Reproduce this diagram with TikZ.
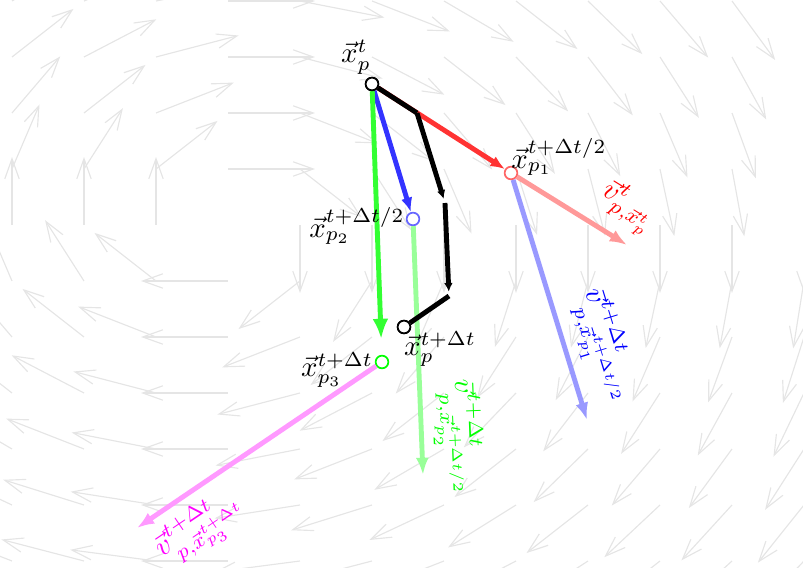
\documentclass[tikz,border=0pt]{standalone}
\usepackage{amsmath}
\usetikzlibrary{arrows.meta, positioning, calc}
\definecolor{mag}{RGB}{255,0,255}
\tikzstyle{field} = [draw=black!10, line width=0.4pt, -{Straight Barb[length=7pt,width=5pt]}]

\begin{document}
\begin{tikzpicture}[
    x=0.0122cm, y=-0.0122cm,
    pt/.style={circle, draw, fill=white, inner sep=0pt, minimum size=4.4pt, line width=0.6pt},
    stepvec/.style={line width=1.7pt, -{Latex[length=5pt,width=4pt]}},
    velvec/.style={line width=1.7pt, -{Latex[length=6pt,width=4.5pt]}},
    rk/.style={line width=1.7pt, draw=black},
    rkstep/.style={rk, -{Latex[length=3pt,width=3pt]}, shorten >=1.5pt}
  ]
    \useasboundingbox (0,0) rectangle (803,568);

    % background field
    \begin{scope}
      \clip (0,0) rectangle (803,568);
      \foreach \i in {-3,...,8}{
        \foreach \j in {-4,...,6}{
          \pgfmathsetmacro\rr{sqrt((\i)*(\i)+(\j)*(\j))}
          \ifdim\rr pt>0.1pt
            \pgfmathsetmacro\du{-87*(\j)/\rr}
            \pgfmathsetmacro\dv{68*(\i)/\rr}
            \draw[field] (228+72*\i,225+56*\j) -- ++(\du,\dv);
          \fi
        }
      }
    \end{scope}

    % particle positions
    \node[pt] (xp) at (372,84) {};
    \node[pt, draw=red!60] (xp1) at (511,173) {};
    \node[pt, draw=blue!60] (xp2) at (413,219) {};
    \node[pt, draw=green] (xp3) at (382,362) {};
    \node[pt] (xpn) at (404,327) {};

    \coordinate (vr) at (627,245);
    \coordinate (vb) at (587,420);
    \coordinate (vg) at (423,475);
    \coordinate (vm) at (137,528);

    \coordinate (k1) at (417,113);
    \coordinate (k2) at (445,203);
    \coordinate (k3) at (449,296);

    % velocities
    \draw[velvec, red!40] (xp1) -- (vr)
      node[pos=0.85, sloped, above, red] {$\vec{v}^{t}_{p,\vec{x}_p^{t}}$};
    \draw[velvec, blue!40] (xp1) -- (vb)
      node[pos=0.74, sloped, above, blue] {$\vec{v}^{t+\Delta t}_{p,\vec{x}_{p_1}^{t+\Delta t/2}}$};
    \draw[velvec, green!40] (xp2) -- (vg)
      node[pos=0.83, sloped, above, green, xshift=2pt] {$\vec{v}^{t+\Delta t}_{p,\vec{x}_{p_2}^{t+\Delta t/2}}$};
    \draw[velvec, mag!40] (xp3) -- (vm)
      node[pos=0.82, sloped, below, mag] {$\vec{v}^{t+\Delta t}_{p,\vec{x}_{p_3}^{t+\Delta t}}$};

    % substeps
    \draw[stepvec, red!80] (xp) -- (xp1);
    \draw[stepvec, blue!80] (xp) -- (xp2);
    \draw[stepvec, green!80, -{Latex[length=7pt,width=5.5pt]}, shorten >=5.5pt] (xp) -- (xp3);

    % RK4 path
    \draw[rk] (xp) -- (k1);
    \draw[rkstep] (k1) -- (k2);
    \draw[rkstep] (k2) -- (k3);
    \draw[rk] (k3) -- (xpn);

    \node[pt] at (xp) {};
    \node[pt] at (xpn) {};

    % labels
    \node at (356,57) {$\vec{x}_p^{t}$};
    \node at (559,157) {$\vec{x}_{p_1}^{t+\Delta t/2}$};
    \node at (357,226) {$\vec{x}_{p_2}^{t+\Delta t/2}$};
    \node at (337,370) {$\vec{x}_{p_3}^{t+\Delta t}$};
    \node at (440,349) {$\vec{x}_p^{t+\Delta t}$};
  \end{tikzpicture}
\end{document}
